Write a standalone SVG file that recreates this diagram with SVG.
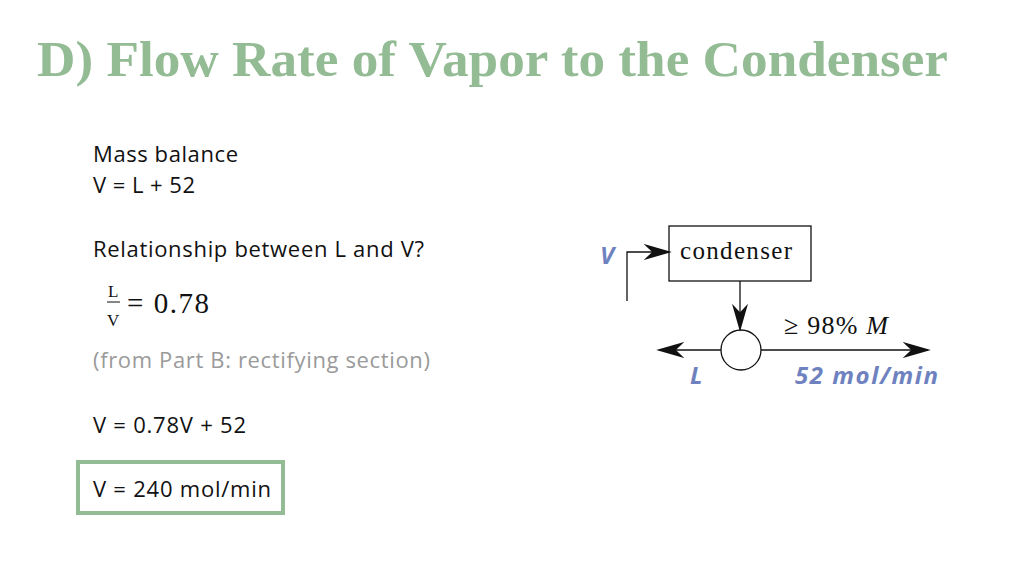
<svg xmlns="http://www.w3.org/2000/svg" width="1024" height="576" viewBox="0 0 1024 576">
<style>
.b{font-family:"Open Sans","Liberation Sans",sans-serif;font-size:22px;fill:#111}
.s{font-family:"Liberation Serif",serif;fill:#111}
.bl{font-family:"Open Sans","Liberation Sans",sans-serif;font-weight:bold;font-style:italic;fill:#6f82c0;font-size:24px}
.ln{stroke:#111;stroke-width:1.3;fill:none}
</style>
<defs>
<marker id="a2" viewBox="0 0 10 10" refX="9" refY="5" markerWidth="28" markerHeight="16" markerUnits="userSpaceOnUse" orient="auto" preserveAspectRatio="none"><path d="M0,0 L10,5 L0,10 L3,5 Z" fill="#111"/></marker></defs>
<rect width="1024" height="576" fill="#fff"/>
<text x="37" y="76" font-family="Liberation Serif,serif" font-weight="bold" font-size="51" fill="#93bb94" textLength="911" lengthAdjust="spacingAndGlyphs">D) Flow Rate of Vapor to the Condenser</text>
<g id="text">
<text class="b" x="93" y="162" textLength="145">Mass balance</text>
<text class="b" x="93" y="193" textLength="102">V = L + 52</text>
<text class="b" x="93" y="257" textLength="331">Relationship between L and V?</text>
<text class="s" x="108" y="297" font-size="17">L</text>
<line x1="107" y1="302" x2="120" y2="302" stroke="#111" stroke-width="1"/>
<text class="s" x="107" y="326" font-size="17">V</text>
<text class="s" x="127" y="313" font-size="29" textLength="82">= 0.78</text>
<text class="b" x="93" y="368" style="fill:#9a9a9a" textLength="337">(from Part B: rectifying section)</text>
<text class="b" x="93" y="433" textLength="153">V = 0.78V + 52</text>
</g>
<g id="result"><rect x="78" y="462" width="205" height="51" fill="#fff" stroke="#93bb94" stroke-width="4"/>
<text class="b" x="93" y="497" textLength="178">V = 240 mol/min</text></g>
<g id="condenser"><rect x="669" y="226" width="142" height="55" fill="#fff" stroke="#111" stroke-width="1.3"/>
<text class="s" x="736" y="259" font-size="25" text-anchor="middle" textLength="112">condenser</text></g>
<g id="splitter"><circle cx="741" cy="350" r="20" fill="#fff" stroke="#111" stroke-width="1.3"/></g>
<g id="connectors">
<path class="ln" d="M627,301 V252 H669" marker-end="url(#a2)"/>
<path class="ln" d="M740,281 V329" marker-end="url(#a2)"/>
<path class="ln" d="M721,350 H659" marker-end="url(#a2)"/>
<path class="ln" d="M761,350 H928" marker-end="url(#a2)"/>
</g>
<text class="bl" x="600" y="264">V</text>
<text class="bl" x="690" y="384">L</text>
<text class="bl" x="795" y="384" textLength="143">52 mol/min</text>
<text class="s" x="784" y="334" font-size="26" textLength="104">≥ 98% <tspan font-style="italic">M</tspan></text>
</svg>
